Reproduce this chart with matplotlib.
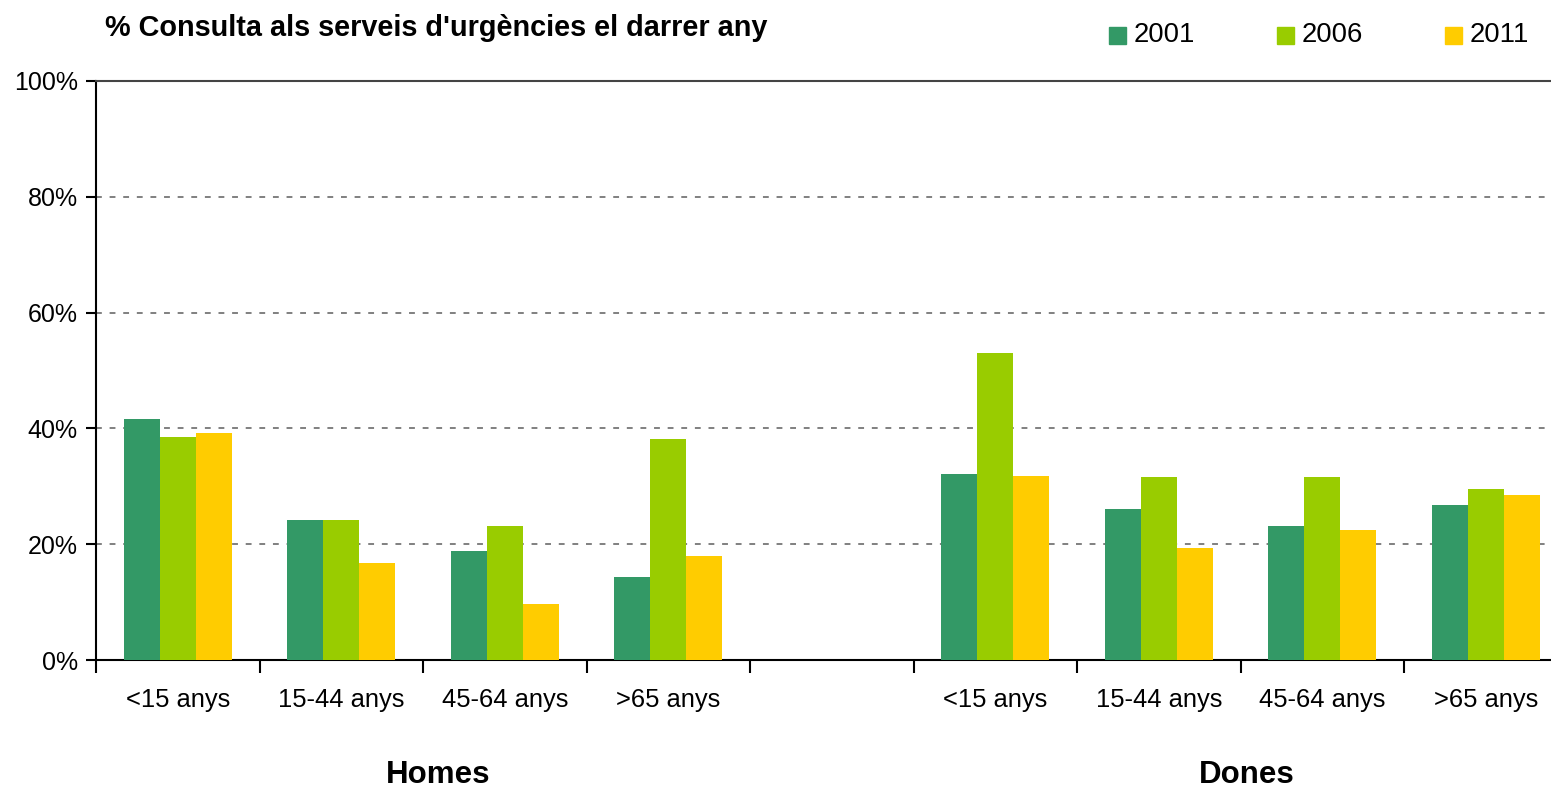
import matplotlib.pyplot as plt
from matplotlib.patches import Rectangle
import numpy as np

plt.rcParams['font.family'] = ['Liberation Sans', 'DejaVu Sans']

# data
years = ['2001', '2006', '2011']
colors = ['#339966', '#99CC00', '#FFCC00']
age_groups = ['<15 anys', '15-44 anys', '45-64 anys', '>65 anys']
sexes = ['Homes', 'Dones']
homes = [[41.6, 24.2, 18.8, 14.3],   # 2001
         [38.5, 24.2, 23.1, 38.2],   # 2006
         [39.2, 16.8, 9.7, 18.0]]    # 2011
dones = [[32.1, 26.1, 23.1, 26.8],
         [53.0, 31.6, 31.6, 29.5],
         [31.8, 19.3, 22.5, 28.5]]
title = "% Consulta als serveis d'urgències el darrer any"

fig = plt.figure(figsize=(15.51, 7.87), dpi=100)
ax = fig.add_axes([96/1551, 1 - 660/787, 1471.5/1551, (660 - 81)/787])

# slot positions: 4 homes, one empty slot, 4 dones
pos_h = np.arange(4)
pos_d = np.arange(4) + 5
bw = 0.22
for i, (yr, c) in enumerate(zip(years, colors)):
    off = (i - 1) * bw
    ax.bar(pos_h + off, homes[i], width=bw, color=c, zorder=3, label=yr)
    ax.bar(pos_d + off, dones[i], width=bw, color=c, zorder=3)

ax.set_xlim(-0.5, 8.5)
ax.set_ylim(0, 100)
ax.set_yticks(np.arange(0, 101, 20))
ax.set_yticklabels([f'{v}%' for v in range(0, 101, 20)], fontsize=18)
ax.tick_params(axis='y', length=7, width=1.5, direction='out', pad=6)
ax.yaxis.grid(True, linestyle=(0, (3, 4)), color='#808080', linewidth=1.4, zorder=0)

# boundaries as major ticks, category labels as minor ticks
ax.set_xticks(np.arange(-0.5, 8.6, 1))
ax.set_xticklabels([])
ax.tick_params(axis='x', which='major', length=9, width=1.5)
ax.set_xticks(list(pos_h) + list(pos_d), minor=True)
ax.set_xticklabels(age_groups + age_groups, minor=True, fontsize=18.4)
ax.tick_params(axis='x', which='minor', length=0, pad=20)

for s in ['left', 'bottom']:
    ax.spines[s].set_linewidth(1.5)
ax.spines['right'].set_visible(False)
ax.spines['top'].set_color('#444444')
ax.spines['top'].set_linewidth(1.5)

# group labels under each half
for xpix, lab in zip([438, 1247], sexes):
    fig.text(xpix/1551, 1 - 775/787, lab, ha='center', va='center', fontsize=22.5,
             fontweight='bold')

fig.text(105/1551, 1 - 28/787, title, fontsize=20.8, fontweight='bold', va='center', ha='left')

# legend
for i, (yr, c) in enumerate(zip(years, colors)):
    x0 = 1109 + i * 168
    fig.add_artist(Rectangle((x0/1551, 1 - 43.5/787), 17/1551, 17/787,
                             transform=fig.transFigure, color=c))
    fig.text((x0 + 25)/1551, 1 - 35/787, yr, fontsize=19.8, va='center', ha='left')

fig.savefig('out.png', dpi=100)
